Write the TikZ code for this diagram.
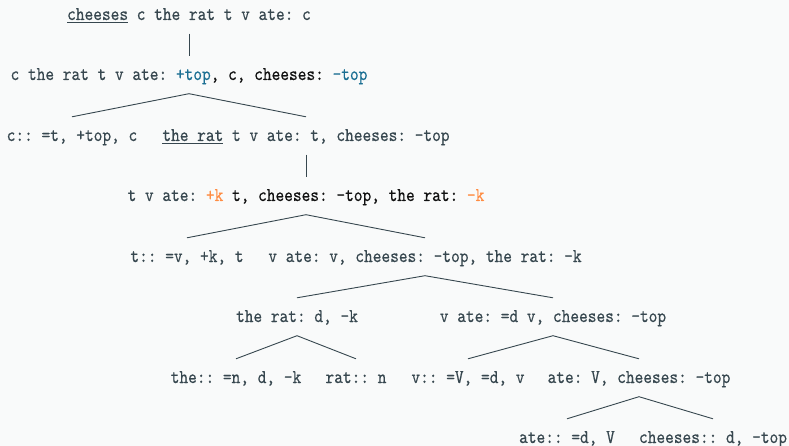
\documentclass[tikz,border=0pt]{standalone}
\usepackage{fontspec}
\newfontfamily\monof{lmmono10-regular}[Extension=.otf, FakeStretch=0.85, FakeBold=0.4]
\definecolor{bgc}{HTML}{F9FAFA}
\definecolor{txt}{HTML}{37474F}
\definecolor{dark}{HTML}{111111}
\definecolor{blu}{HTML}{1B6F93}
\definecolor{org}{HTML}{FF8C42}
\newcommand\ulin[1]{\setbox0\hbox{#1}\rlap{\rule[-2.6pt]{\wd0}{0.9pt}}\box0\relax}
\newcommand\dk[1]{\textcolor{dark}{#1}}
\newcommand\bl[1]{\textcolor{blu}{#1}}
\newcommand\og[1]{\textcolor{org}{#1}}
\begin{document}
\begin{tikzpicture}[x=1pt,y=-1pt,
  lbl/.style={anchor=base, inner sep=0pt, text height=24pt, text depth=13.5pt,
    font=\monof\fontsize{19.5}{20}\selectfont\frenchspacing, text=txt},
  edge/.style={draw=txt, line width=0.9pt}]
\fill[bgc] (0,0) rectangle (789,446);
\useasboundingbox (0,0) rectangle (789,446);

\node[lbl] (r1) at (189,20) {\ulin{cheeses} c the rat t v ate: c};
\node[lbl] (r2) at (189,80) {c the rat t v ate: \bl{+top}\dk{, c, cheeses:} \bl{-top}};
\node[lbl] (r3a) at (72,141) {c:: =t, +top, c};
\node[lbl] (r3b) at (306,141) {\ulin{the rat} t v ate: t, cheeses: -top};
\node[lbl] (r4) at (306,201) {t v ate: \og{+k} \dk{t, cheeses: -top, the rat:} \og{-k}};
\node[lbl] (r5a) at (187,262) {t:: =v, +k, t};
\node[lbl] (r5b) at (425,262) {v ate: v, cheeses: -top, the rat: -k};
\node[lbl] (r6a) at (297,322) {the rat: d, -k};
\node[lbl] (r6b) at (553,322) {v ate: =d v, cheeses: -top};
\node[lbl] (r7a) at (236,383) {the:: =n, d, -k};
\node[lbl] (r7b) at (356,383) {rat:: n};
\node[lbl] (r7c) at (468,383) {v:: =V, =d, v};
\node[lbl] (r7d) at (639,383) {ate: V, cheeses: -top};
\node[lbl] (r8a) at (567,443) {ate:: =d, V};
\node[lbl] (r8b) at (713,443) {cheeses:: d, -top};

\draw[edge] (r1.south) -- (r2.north);
\draw[edge] (r3a.north) -- (r2.south) -- (r3b.north);
\draw[edge] (r3b.south) -- (r4.north);
\draw[edge] (r5a.north) -- (r4.south) -- (r5b.north);
\draw[edge] (r6a.north) -- (r5b.south) -- (r6b.north);
\draw[edge] (r7a.north) -- (r6a.south) -- (r7b.north);
\draw[edge] (r7c.north) -- (r6b.south) -- (r7d.north);
\draw[edge] (r8a.north) -- (r7d.south) -- (r8b.north);
\end{tikzpicture}
\end{document}
